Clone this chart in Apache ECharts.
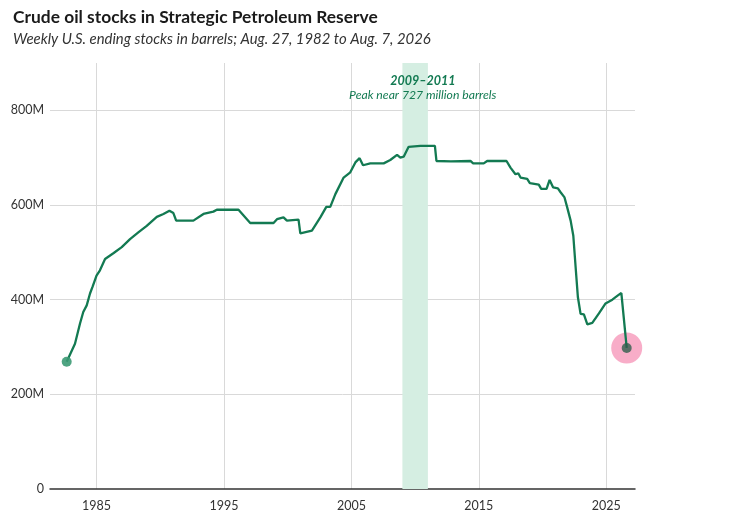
<!DOCTYPE html>
<html>
<head>
<meta charset="utf-8">
<script src="https://cdn.jsdelivr.net/npm/echarts@6/dist/echarts.min.js"></script>
<style>
  html, body { margin: 0; padding: 0; background: #fff; }
  #chart { width: 730px; height: 520px; }
</style>
</head>
<body>
<div id="chart"></div>
<script>
// decimal years and stocks in millions of barrels
var years = [1982.66, 1983.31, 1983.7, 1983.96, 1984.23, 1984.49, 1984.7, 1985.0, 1985.27, 1985.67,
  1986.32, 1986.98, 1987.63, 1988.28, 1988.94, 1989.73, 1990.25, 1990.72, 1991.03, 1991.25,
  1992.6, 1993.39, 1994.17, 1994.44, 1996.14, 1997.06, 1998.89, 1999.16, 1999.67, 1999.94,
  2000.85, 2000.99, 2001.9, 2002.56, 2003.03, 2003.34, 2003.74, 2004.39, 2004.91, 2005.31,
  2005.64, 2005.91, 2006.48, 2007.53, 2008.05, 2008.58, 2008.84, 2009.1, 2009.49, 2010.41,
  2011.55, 2011.67, 2012.8, 2014.34, 2014.55, 2015.38, 2015.65, 2017.17, 2017.48, 2017.87,
  2018.09, 2018.27, 2018.79, 2019.0, 2019.7, 2019.89, 2020.31, 2020.55, 2020.83, 2021.2,
  2021.41, 2021.72, 2021.93, 2022.2, 2022.41, 2022.59, 2022.77, 2022.98, 2023.24, 2023.51,
  2023.9, 2024.42, 2024.94, 2025.47, 2025.91, 2026.18, 2026.6];
var stocks = [269, 307, 349, 374, 388, 413, 428, 451, 462, 486,
  498, 511, 528, 542, 556, 575, 581, 588, 583, 567,
  567, 581, 586, 590, 590, 562, 562, 570, 574, 567,
  569, 540, 546, 574, 596, 596, 623, 658, 669, 690,
  699, 684, 688, 688, 695, 706, 700, 702, 723, 725,
  725, 693, 692, 693, 688, 688, 693, 693, 679, 665,
  667, 658, 655, 646, 643, 634, 634, 653, 637, 635,
  627, 616, 595, 567, 535, 469, 405, 370, 369, 348,
  351, 371, 392, 400, 409, 414, 298];
var tickYears = [1985, 1995, 2005, 2015, 2025];
var peakSpan = [2009, 2011];
var peakLabel = ['2009–2011', 'Peak near 727 million barrels'];

var green = '#137a52';
var lineData = years.map(function (y, i) { return [y, stocks[i]]; });
var first = lineData[0];
var last = lineData[lineData.length - 1];

var chart = echarts.init(document.getElementById('chart'));
var option = {
  animation: false,
  textStyle: { fontFamily: 'Lato' },
  title: {
    text: 'Crude oil stocks in Strategic Petroleum Reserve',
    subtext: 'Weekly U.S. ending stocks in barrels; Aug. 27, 1982 to Aug. 7, 2026',
    left: 8, top: 4, itemGap: 6,
    textStyle: { fontFamily: 'Lato', fontWeight: 'bold', fontSize: 17.4, color: '#1a1a1a' },
    subtextStyle: { fontFamily: 'Lato', fontStyle: 'italic', fontSize: 14.9, color: '#333' }
  },
  grid: { left: 50, right: 95, top: 63, bottom: 31, containLabel: false },
  xAxis: {
    type: 'value',
    min: 1981.35,
    max: 2027.25,
    axisLine: { show: true, lineStyle: { color: '#333', width: 1.5 } },
    axisTick: { show: false, customValues: tickYears },
    axisLabel: {
      customValues: tickYears, color: '#333', fontSize: 12.5, margin: 10,
      formatter: function (v) { return String(v); }
    },
    splitLine: { show: true, lineStyle: { color: '#d9d9d9', width: 1 } }
  },
  yAxis: {
    type: 'value',
    min: 0, max: 900, interval: 200,
    axisLine: { show: false },
    axisTick: { show: false },
    axisLabel: {
      showMaxLabel: false, color: '#333', fontSize: 12.5, margin: 6,
      formatter: function (v) { return v === 0 ? '0' : v + 'M'; }
    },
    splitLine: { show: true, showMaxLine: false, showMinLine: false, lineStyle: { color: '#d9d9d9', width: 1 } }
  },
  series: [
    {
      type: 'line',
      data: lineData,
      showSymbol: false,
      lineStyle: { color: green, width: 2.3 },
      z: 3,
      markArea: {
        silent: true,
        itemStyle: { color: '#d5eee2' },
        data: [[{ xAxis: peakSpan[0] }, { xAxis: peakSpan[1] }]]
      },
      markPoint: {
        silent: true,
        symbolSize: 0,
        data: [{ coord: [2010.6, 848] }],
        label: {
          show: true,
          formatter: '{a|' + peakLabel[0] + '}\n{b|' + peakLabel[1] + '}',
          rich: {
            a: { fontFamily: 'Lato', fontStyle: 'italic', fontWeight: 'bold', fontSize: 12.5, color: green, align: 'center', lineHeight: 15 },
            b: { fontFamily: 'Lato', fontStyle: 'italic', fontSize: 12.2, color: green, align: 'center', lineHeight: 14 }
          }
        }
      }
    },
    {
      type: 'scatter',
      data: [first],
      symbolSize: 10,
      itemStyle: { color: '#3c9a74', opacity: 0.9 },
      z: 4
    },
    {
      type: 'scatter',
      data: [last],
      symbolSize: 31,
      itemStyle: { color: '#f7a4c2', opacity: 0.9 },
      z: 2
    },
    {
      type: 'scatter',
      data: [last],
      symbolSize: 10,
      itemStyle: { color: '#2f5e4c' },
      z: 5
    }
  ]
};
chart.setOption(option);
</script>
</body>
</html>
